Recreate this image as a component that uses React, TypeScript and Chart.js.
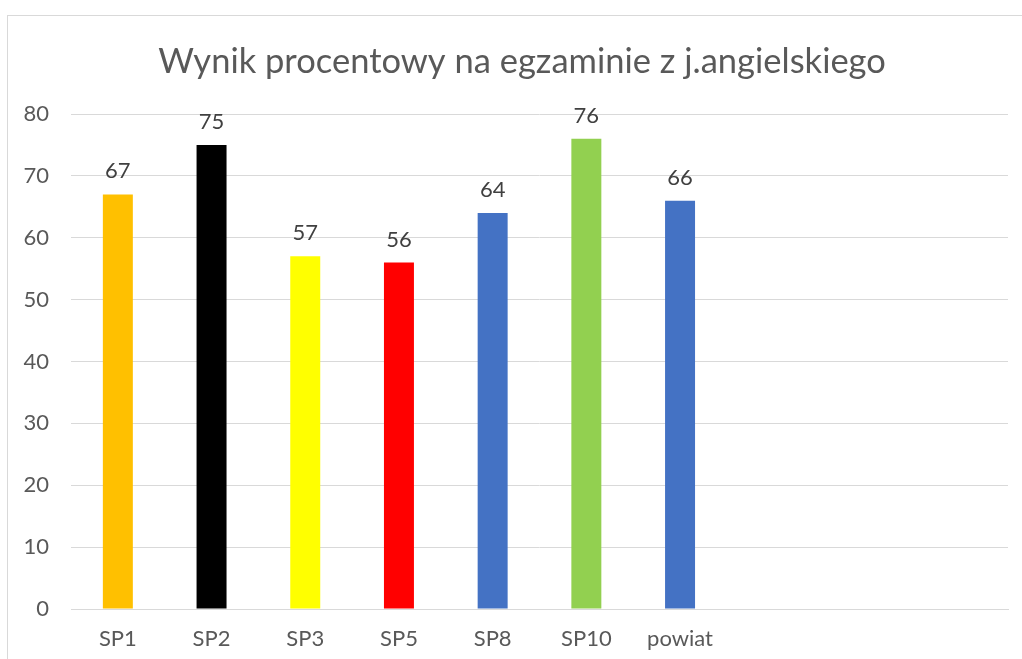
import React, { useEffect, useRef } from "react";
import { Chart, registerables } from "chart.js";

Chart.register(...registerables);

const categories = ["SP1", "SP2", "SP3", "SP5", "SP8", "SP10", "powiat", "", "", ""];
const values = [67, 75, 57, 56, 64, 76, 66, null, null, null];
const barColors = ["#FFC000", "#000000", "#FFFF00", "#FF0000", "#4472C4", "#92D050", "#4472C4", "#4472C4", "#4472C4", "#4472C4"];
const yTicks = [0, 10, 20, 30, 40, 50, 60, 70, 80];
const titleText = "Wynik procentowy na egzaminie z j.angielskiego";

const FONT = "Lato, 'Open Sans', sans-serif";

const valueLabels = {
  id: "valueLabels",
  afterDatasetsDraw(chart: any) {
    const ctx = chart.ctx;
    const meta = chart.getDatasetMeta(0);
    ctx.save();
    ctx.font = `22px ${FONT}`;
    ctx.fillStyle = "#404040";
    ctx.textAlign = "center";
    ctx.textBaseline = "alphabetic";
    meta.data.forEach((bar: any, i: number) => {
      const v = values[i];
      if (v === null || v === undefined) return;
      ctx.fillText(String(v), bar.x, bar.y - 16);
    });
    ctx.restore();
  },
};

const titlePlugin = {
  id: "customTitle",
  afterDraw(chart: any) {
    const ctx = chart.ctx;
    ctx.save();
    ctx.font = `34.5px ${FONT}`;
    ctx.fillStyle = "#595959";
    ctx.textAlign = "center";
    ctx.textBaseline = "alphabetic";
    ctx.fillText(titleText, 522, 73);
    ctx.restore();
  },
};

export default function App() {
  const ref = useRef<HTMLCanvasElement>(null);
  useEffect(() => {
    document.body.style.margin = "0";
    const chart = new Chart(ref.current!, {
      type: "bar",
      data: {
        labels: categories,
        datasets: [
          {
            data: values as any,
            backgroundColor: barColors,
            categoryPercentage: 1,
            barPercentage: 0.32,
          },
        ],
      },
      options: {
        animation: false,
        responsive: false,
        maintainAspectRatio: false,
        layout: { padding: { left: 0, right: 14, top: 114, bottom: 0 } },
        plugins: {
          legend: { display: false },
          tooltip: { enabled: false },
          title: { display: false },
        },
        scales: {
          x: {
            grid: { display: false, drawTicks: false },
            border: { display: true, color: "#D9D9D9", width: 1 },
            ticks: {
              color: "#595959",
              font: { family: FONT, size: 22 },
              padding: 17,
              autoSkip: false,
              maxRotation: 0,
            },
            afterFit(scale: any) {
              scale.height = 50;
            },
          },
          y: {
            min: 0,
            max: 80,
            afterBuildTicks(scale: any) {
              scale.ticks = yTicks.map((v) => ({ value: v }));
            },
            grid: { color: "#D9D9D9", drawTicks: false, lineWidth: 1 },
            border: { display: false },
            ticks: {
              color: "#595959",
              font: { family: FONT, size: 22 },
              padding: 22,
            },
            afterFit(scale: any) {
              scale.width = 71;
            },
          },
        },
      },
      plugins: [valueLabels, titlePlugin],
    });
    return () => chart.destroy();
  }, []);

  return (
    <div style={{ position: "fixed", left: 0, top: 0, width: 1022, height: 659, background: "#fff", overflow: "hidden" }}>
      <div
        style={{
          position: "absolute",
          left: 7,
          top: 15,
          width: 1100,
          height: 800,
          border: "1px solid #D9D9D9",
          boxSizing: "border-box",
        }}
      />
      <canvas ref={ref} width={1022} height={659} style={{ position: "absolute", left: 0, top: 0, width: 1022, height: 659 }} />
    </div>
  );
}
